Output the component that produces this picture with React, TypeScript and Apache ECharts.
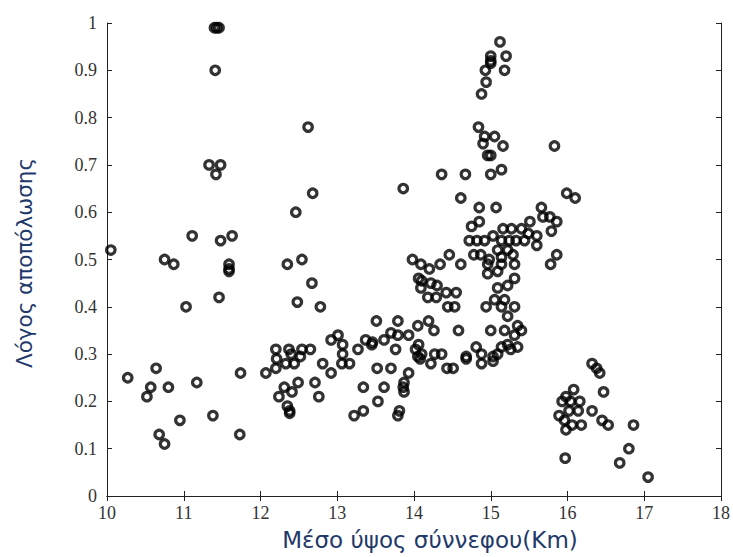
import React, { useEffect, useRef } from "react";
import * as echarts from "echarts";

const xTicks = [10, 11, 12, 13, 14, 15, 16, 17, 18];
const yTicks = [0, 0.1, 0.2, 0.3, 0.4, 0.5, 0.6, 0.7, 0.8, 0.9, 1];

const leftGroup: number[][] = [
  [10.05, 0.52], [10.27, 0.25], [10.52, 0.21], [10.57, 0.23], [10.64, 0.27], [10.68, 0.13],
  [10.75, 0.11], [10.75, 0.5], [10.8, 0.23], [10.87, 0.49], [10.95, 0.16],
  [11.03, 0.4], [11.11, 0.55], [11.17, 0.24], [11.38, 0.17],
  [11.33, 0.7], [11.48, 0.7], [11.42, 0.68], [11.41, 0.9], [11.4, 0.99], [11.43, 0.99], [11.46, 0.99],
  [11.46, 0.42], [11.48, 0.54], [11.63, 0.55], [11.59, 0.49], [11.59, 0.48], [11.59, 0.475],
  [11.74, 0.26], [11.73, 0.13],
];

const group12: number[][] = [
  [12.07, 0.26], [12.2, 0.31], [12.21, 0.29], [12.2, 0.27], [12.37, 0.31], [12.33, 0.28],
  [12.44, 0.28], [12.4, 0.3], [12.54, 0.31], [12.52, 0.295], [12.65, 0.31], [12.31, 0.23],
  [12.24, 0.21], [12.41, 0.22], [12.49, 0.24], [12.35, 0.19], [12.38, 0.18], [12.38, 0.175],
  [12.71, 0.24], [12.76, 0.21], [12.81, 0.28], [12.92, 0.33], [12.92, 0.26],
  [12.35, 0.49], [12.54, 0.5], [12.67, 0.45], [12.48, 0.41], [12.78, 0.4], [12.62, 0.78],
  [12.68, 0.64], [12.46, 0.6],
];

const group13: number[][] = [
  [13.01, 0.34], [13.07, 0.32], [13.07, 0.3], [13.06, 0.28], [13.16, 0.28], [13.27, 0.31],
  [13.37, 0.33], [13.46, 0.325], [13.45, 0.32], [13.61, 0.33], [13.7, 0.345], [13.79, 0.34],
  [13.93, 0.34], [13.76, 0.31], [13.51, 0.37], [13.79, 0.37], [13.52, 0.27], [13.7, 0.27],
  [13.93, 0.26], [13.34, 0.23], [13.61, 0.23], [13.87, 0.24], [13.86, 0.23], [13.87, 0.22],
  [13.53, 0.2], [13.22, 0.17], [13.34, 0.18], [13.81, 0.18], [13.79, 0.17], [13.86, 0.65],
  [13.98, 0.5],
];

const group14: number[][] = [
  [14.05, 0.36], [14.19, 0.37], [14.26, 0.35], [14.58, 0.35],
  [14.09, 0.49], [14.2, 0.48], [14.34, 0.49], [14.46, 0.51], [14.61, 0.49],
  [14.09, 0.44], [14.22, 0.45], [14.3, 0.445], [14.18, 0.42], [14.29, 0.42], [14.42, 0.43],
  [14.55, 0.43], [14.44, 0.4], [14.53, 0.4], [14.06, 0.46], [14.1, 0.455],
  [14.02, 0.31], [14.05, 0.295], [14.08, 0.29], [14.1, 0.3], [14.06, 0.32], [14.22, 0.28],
  [14.36, 0.3], [14.27, 0.3], [14.43, 0.27], [14.51, 0.27], [14.68, 0.29],
  [14.36, 0.68], [14.67, 0.68], [14.61, 0.63],
];

const group15Upper: number[][] = [
  [15.12, 0.96], [15.2, 0.93], [15.0, 0.93], [15.0, 0.92], [15.0, 0.915], [14.93, 0.9],
  [15.18, 0.9], [14.94, 0.875], [14.88, 0.85], [14.84, 0.78], [14.92, 0.76], [15.05, 0.76],
  [14.9, 0.745], [15.16, 0.74], [14.96, 0.72], [15.0, 0.72], [15.0, 0.68], [15.14, 0.69],
  [14.85, 0.61], [15.07, 0.61],
];

const group15Mid: number[][] = [
  [14.75, 0.57], [14.85, 0.58], [14.72, 0.54], [14.82, 0.54], [14.92, 0.54], [15.03, 0.55],
  [15.16, 0.565], [15.27, 0.565], [15.4, 0.565], [15.49, 0.555], [15.6, 0.55], [15.6, 0.53],
  [15.14, 0.54], [15.24, 0.54], [15.33, 0.54], [15.44, 0.54], [15.09, 0.52], [15.22, 0.52],
  [14.78, 0.51], [14.87, 0.51], [14.98, 0.5], [15.14, 0.505], [15.29, 0.51], [14.96, 0.49],
  [15.14, 0.49], [15.31, 0.49], [14.96, 0.47], [15.09, 0.475], [15.31, 0.46], [15.09, 0.44],
  [15.22, 0.445], [15.51, 0.58],
];

const group15Lower: number[][] = [
  [14.94, 0.4], [15.05, 0.415], [15.18, 0.415], [15.31, 0.4], [15.14, 0.4], [15.22, 0.38],
  [15.35, 0.36], [15.4, 0.35], [15.0, 0.35], [15.18, 0.35], [15.31, 0.34], [15.22, 0.32],
  [15.14, 0.315], [15.26, 0.31], [15.35, 0.315], [14.81, 0.315], [14.68, 0.295], [14.88, 0.28],
  [15.03, 0.295], [15.09, 0.3], [14.88, 0.3], [15.03, 0.285],
];

const group16: number[][] = [
  [15.66, 0.61], [15.68, 0.59], [15.77, 0.59], [15.86, 0.58], [15.79, 0.56], [15.86, 0.51],
  [15.78, 0.49], [15.83, 0.74], [15.99, 0.64], [16.1, 0.63],
  [16.32, 0.28], [16.38, 0.27], [16.42, 0.26], [16.47, 0.22], [16.08, 0.225], [15.93, 0.2],
  [16.04, 0.2], [16.16, 0.2], [15.98, 0.21], [15.89, 0.17], [16.02, 0.18], [16.14, 0.18],
  [16.32, 0.18], [15.96, 0.16], [16.06, 0.15], [16.18, 0.15], [15.98, 0.14], [16.45, 0.16],
  [16.53, 0.15], [16.86, 0.15], [16.8, 0.1], [16.68, 0.07], [15.97, 0.08], [17.05, 0.04],
];

const allPoints = [
  ...leftGroup, ...group12, ...group13, ...group14,
  ...group15Upper, ...group15Mid, ...group15Lower, ...group16,
];

const xTitle = "Μέσο ύψος σύννεφου(Km)";
const yTitle = "Λόγος αποπόλωσης";

export default function App() {
  const ref = useRef<HTMLDivElement>(null);
  useEffect(() => {
    if (!ref.current) return;
    const chart = echarts.init(ref.current, undefined, { renderer: "svg" });
    const labelStyle = {
      fontFamily: "Liberation Serif, serif",
      fontSize: 18,
      color: "#333",
    };
    const lineStyle = { color: "#222", width: 1 };
    const yFmt = (v: number) => {
      const r = Math.round(v * 10) / 10;
      if (r === 0) return "0";
      if (r === 1) return "1";
      return yTicks.includes(r) ? r.toFixed(1) : "";
    };
    chart.setOption({
      animation: false,
      backgroundColor: "#fff",
      grid: { left: 107, right: 11, top: 23, bottom: 61, containLabel: false },
      xAxis: [
        {
          type: "value", min: xTicks[0], max: xTicks[xTicks.length - 1], interval: 1,
          position: "bottom",
          axisLine: { show: true, lineStyle },
          axisTick: { show: true, inside: true, length: 5, lineStyle },
          axisLabel: { ...labelStyle, margin: 8 },
          splitLine: { show: false },
        },
        {
          type: "value", min: xTicks[0], max: xTicks[xTicks.length - 1], interval: 1,
          position: "top",
          axisLine: { show: true, lineStyle },
          axisTick: { show: true, inside: true, length: 5, lineStyle },
          axisLabel: { show: false },
          splitLine: { show: false },
        },
      ],
      yAxis: [
        {
          type: "value", min: 0, max: 1, interval: 0.1,
          position: "left",
          axisLine: { show: true, lineStyle },
          axisTick: { show: true, inside: true, length: 5, lineStyle },
          axisLabel: { ...labelStyle, margin: 10, formatter: yFmt },
          splitLine: { show: false },
        },
        {
          type: "value", min: 0, max: 1, interval: 0.1,
          position: "right",
          axisLine: { show: true, lineStyle },
          axisTick: { show: true, inside: true, length: 5, lineStyle },
          axisLabel: { show: false },
          splitLine: { show: false },
        },
      ],
      graphic: [
        {
          type: "text",
          x: 430, y: 540,
          style: {
            text: xTitle,
            fontFamily: "DejaVu Sans, sans-serif",
            fontSize: 23,
            fill: "#1f3a6a",
            textAlign: "center",
            textVerticalAlign: "middle",
          },
        },
        {
          type: "text",
          x: 24, y: 263,
          rotation: Math.PI / 2,
          style: {
            text: yTitle,
            fontFamily: "DejaVu Sans, sans-serif",
            fontSize: 21.5,
            fill: "#1f3a6a",
            textAlign: "center",
            textVerticalAlign: "middle",
          },
        },
      ],
      series: [
        {
          type: "scatter",
          xAxisIndex: 0,
          yAxisIndex: 0,
          data: allPoints,
          symbol: "circle",
          symbolSize: 8.5,
          itemStyle: { color: "transparent", borderColor: "#000", borderWidth: 3.2 },
          emphasis: { disabled: true },
        },
      ],
    });
    return () => chart.dispose();
  }, []);
  return (
    <div
      ref={ref}
      style={{ position: "fixed", left: 0, top: 0, width: 733, height: 557 }}
    />
  );
}
